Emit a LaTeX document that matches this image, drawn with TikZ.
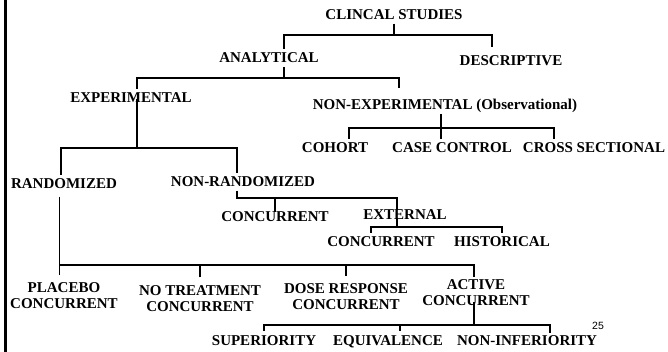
\documentclass[tikz,border=0pt]{standalone}
\usepackage{fontspec}
\setmainfont{Liberation Serif}
\newfontfamily\pagefont{Liberation Sans}

\begin{document}
\begin{tikzpicture}
[x=1pt, y=1pt,
labelnode/.style={font=\bfseries\fontsize{15}{16}\selectfont, inner sep=0pt, outer sep=4pt, text height=10pt, text depth=0pt},
pairnode/.style={font=\bfseries\fontsize{15}{16}\selectfont, inner sep=0pt, outer sep=8pt, align=center},
connect/.style={line width=2.2pt},
thinconnect/.style={line width=1.3pt}]
\useasboundingbox (0,0) rectangle (668,-352);
\draw[line width=2.7pt] (5.3,0) -- (5.3,-352);
\node[labelnode]	(clinical) at (394, -15) {CLINCAL STUDIES};
\node[labelnode]	(analytical) at (269, -58) {ANALYTICAL};
\node[labelnode]	(descriptive) at (511, -61) {DESCRIPTIVE};
\node[labelnode]	(experimental) at (131, -98) {EXPERIMENTAL};
\node[labelnode]	(nonexperimental) at (445, -105) {NON-EXPERIMENTAL (Observational)};
\node[labelnode]	(cohort) at (335, -148) {COHORT};
\node[labelnode]	(casecontrol) at (452, -148) {CASE CONTROL};
\node[labelnode]	(crosssectional) at (594, -148) {CROSS SECTIONAL};
\node[labelnode]	(randomized) at (64, -184) {RANDOMIZED};
\node[labelnode]	(nonrandomized) at (243, -182) {NON-RANDOMIZED};
\node[labelnode]	(concurrent1) at (275, -217) {CONCURRENT};
\node[labelnode]	(external) at (405, -215) {EXTERNAL};
\node[labelnode]	(concurrent2) at (381, -242) {CONCURRENT};
\node[labelnode]	(historical) at (502, -242) {HISTORICAL};
\node[pairnode]	(placebo) at (64, -296) {PLACEBO\\CONCURRENT};
\node[pairnode]	(notreatment) at (200, -298.5) {NO TREATMENT\\CONCURRENT};
\node[pairnode]	(doseresponse) at (346, -297) {DOSE RESPONSE\\CONCURRENT};
\node[pairnode]	(active) at (476, -292.5) {ACTIVE\\CONCURRENT};
\node[labelnode]	(superiority) at (264, -340) {SUPERIORITY};
\node[labelnode]	(equivalence) at (388, -340) {EQUIVALENCE};
\node[labelnode]	(noninferiority) at (527, -340) {NON-INFERIORITY};
\node[font=\pagefont\fontsize{10.5}{12}\selectfont]	(pagenum) at (598, -325.5) {25};
% top levels
\draw[connect] (clinical.south) -- ++(0,-11) -| ([xshift=15pt]analytical.north);
\draw[connect] (clinical.south) -- ++(0,-11) -| ([xshift=-19pt,yshift=5pt]descriptive.north);
\draw[connect] ([xshift=15pt]analytical.south) -- ++(0,-11) -| ([xshift=6pt]experimental.north);
\draw[connect] ([xshift=15pt]analytical.south) -- ++(0,-11) -| ([xshift=-46pt,yshift=8pt]nonexperimental.north);
\draw[connect] ([xshift=6pt,yshift=8pt]experimental.south) -- ++(0,-49) -| ([xshift=-3pt]randomized.north);
\draw[connect] ([xshift=6pt,yshift=8pt]experimental.south) -- ++(0,-49) -| ([xshift=-6pt]nonrandomized.north);
% observational
\draw[connect] ([xshift=-4pt]nonexperimental.south) -- ++(0,-14) -| ([xshift=14pt]cohort.north);
\draw[connect] ([xshift=-4pt]nonexperimental.south) -- ++(0,-14) -| ([xshift=-11pt]casecontrol.north);
\draw[connect] ([xshift=-4pt]nonexperimental.south) -- ++(0,-14) -| ([xshift=-40pt]crosssectional.north);
% non-randomized
\draw[connect] ([xshift=-6pt]nonrandomized.south) -- ++(0,-7) -| ([yshift=-4pt]concurrent1.north);
\draw[connect] ([xshift=-6pt]nonrandomized.south) -- ++(0,-7) -| ([xshift=-8pt,yshift=-4pt]external.north);
\draw[connect] ([xshift=-8pt,yshift=5pt]external.south) -- ++(0,-8) -| ([xshift=-10pt]concurrent2.north);
\draw[connect] ([xshift=-8pt,yshift=5pt]external.south) -- ++(0,-8) -| (historical.north);
% randomized
\draw[thinconnect] ([xshift=-4.5pt,yshift=-4pt]randomized.south) -- ([xshift=-4.5pt]placebo.north);
\draw[thinconnect] ([xshift=-4.5pt,yshift=-4pt]randomized.south) -- ++(0,-68) coordinate (randbar) -| ([xshift=-2pt,yshift=-5.5pt]active.north);
\draw[connect] (notreatment.north) -- (notreatment.north |- randbar);
\draw[connect] (doseresponse.north) -- (doseresponse.north |- randbar);
% active
\draw[connect] ([xshift=-2pt,yshift=11.4pt]active.south) -- ++(0,-23) -| (superiority.north);
\draw[connect] ([xshift=-2pt,yshift=11.4pt]active.south) -- ++(0,-23) -| ([xshift=12pt]equivalence.north);
\draw[connect] ([xshift=-2pt,yshift=11.4pt]active.south) -- ++(0,-23) -| ([xshift=23pt,yshift=-2pt]noninferiority.north);
\end{tikzpicture}
\end{document}
